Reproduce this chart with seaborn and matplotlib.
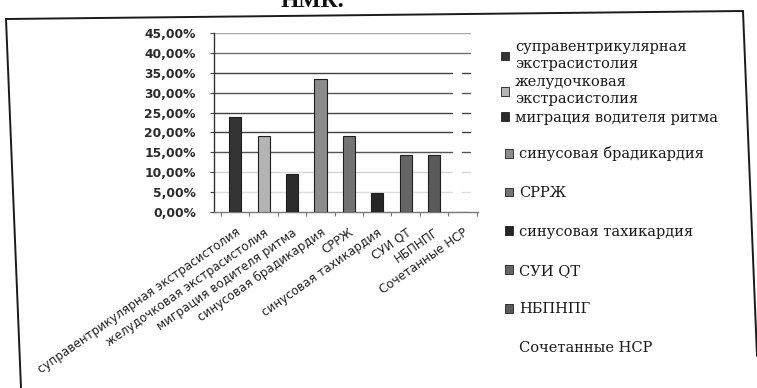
import matplotlib
matplotlib.use("Agg")
import matplotlib.pyplot as plt
from matplotlib.patches import Patch
from matplotlib.lines import Line2D
import seaborn as sns

# Arrhythmia types and their share of patients
categories = [
    "суправентрикулярная экстрасистолия",
    "желудочковая экстрасистолия",
    "миграция водителя ритма",
    "синусовая брадикардия",
    "СРРЖ",
    "синусовая тахикардия",
    "СУИ QT",
    "НБПНПГ",
    "Сочетанные НСР",
]
legend_labels = [
    "суправентрикулярная\nэкстрасистолия",
    "желудочковая\nэкстрасистолия",
    "миграция водителя ритма",
    "синусовая брадикардия",
    "СРРЖ",
    "синусовая тахикардия",
    "СУИ QT",
    "НБПНПГ",
    "Сочетанные НСР",
]
values = [0.2381, 0.1905, 0.0952, 0.3333, 0.1905, 0.0476, 0.1429, 0.1429, 0.0]
y_ticks = [0.0, 0.05, 0.10, 0.15, 0.20, 0.25, 0.30, 0.35, 0.40, 0.45]

bar_colors = ["#353535", "#b4b4b4", "#2c2c2c", "#8c8c8c", "#747474",
              "#262626", "#656565", "#5a5a5a", "#ffffff"]

sns.set_theme(style="white")
plt.rcParams["font.family"] = ["DejaVu Sans"]

W, H = 757, 388
fig = plt.figure(figsize=(W / 100, H / 100), dpi=100)
ax = fig.add_axes([214 / W, 1 - 212 / H, (478 - 214) / W, (212 - 33) / H])

sns.barplot(x=categories, y=values, hue=categories, palette=bar_colors,
            legend=False, width=0.43, edgecolor="#1e1e1e", linewidth=0.8,
            ax=ax, zorder=3)

ax.set_ylim(0, 0.45)
ax.set_xlim(-0.75, 8.55)
ax.set_yticks(y_ticks)
ax.set_yticklabels([f"{t * 100:.2f}%".replace(".", ",") for t in y_ticks],
                   fontsize=8.8, fontweight="bold", color="#2a2a2a")
ax.set_xticks(range(len(categories)))
ax.set_xticklabels(categories, rotation=35, ha="right",
                   rotation_mode="anchor", fontsize=8.6,
                   color="#222222")
ax.set_xlabel("")
ax.set_ylabel("")

# Horizontal gridlines, darker in the middle band
grid_colors = {0.05: "#dddddd", 0.10: "#d4d4d4", 0.15: "#555555",
               0.20: "#404040", 0.25: "#454545", 0.30: "#555555",
               0.35: "#404040", 0.40: "#707070", 0.45: "#a8a8a8"}
for t, c in grid_colors.items():
    if t >= 0.40:
        ax.axhline(t, xmin=0, xmax=0.97, color=c, lw=1.0, zorder=1)
    else:
        ax.axhline(t, xmin=0, xmax=0.9, color=c, lw=1.0, zorder=1)
        ax.axhline(t, xmin=0.94, xmax=0.97, color=c, lw=1.0, zorder=1)

for side in ["top", "right"]:
    ax.spines[side].set_visible(False)
ax.spines["left"].set_color("#333333")
ax.spines["left"].set_linewidth(1.0)
ax.spines["bottom"].set_color("#777777")
ax.spines["bottom"].set_linewidth(1.0)

ax.tick_params(axis="y", which="major", left=True, length=3, width=0.8,
               color="#444444", pad=10)
ax.tick_params(axis="x", which="major", bottom=False, pad=4)
ax.set_xticks([i + 0.5 for i in range(-1, len(categories))], minor=True)
ax.tick_params(axis="x", which="minor", bottom=True, length=3, width=0.8,
               color="#777777")

# Legend on the right, in two blocks (wrapped entries sit closer together)
handles = [Patch(facecolor=c, edgecolor="#1e1e1e", linewidth=0.6)
           for c in bar_colors]
handles[-1] = Patch(facecolor="none", edgecolor="none")
legend_font = {"family": ["DejaVu Serif"], "size": 10.5}
common = dict(loc="upper left", frameon=False, prop=legend_font,
              handlelength=0.55, handleheight=0.55, handletextpad=0.4,
              borderpad=0, labelcolor="#1a1a1a")

leg_a = fig.legend(handles[:3], legend_labels[:3],
                   bbox_to_anchor=(494 / W, 1 - 33 / H),
                   labelspacing=0.3, **common)
for txt in leg_a.get_texts():
    txt.set_linespacing(1.25)
leg_b = fig.legend(handles[3:], legend_labels[3:],
                   bbox_to_anchor=(498 / W, 1 - 139 / H),
                   labelspacing=1.7, **common)

# Page fragment above the chart
fig.text(312 / W, 1 - 7 / H, "НМК.", ha="center", va="baseline",
         fontsize=17, fontweight="bold", color="#111111",
         family=["Liberation Serif", "DejaVu Serif"])

# Tilted chart border
def fig_line(p0, p1):
    fig.add_artist(Line2D([p0[0] / W, p1[0] / W], [1 - p0[1] / H, 1 - p1[1] / H],
                          transform=fig.transFigure, color="#1a1a1a", lw=1.4))

fig_line((6, 19), (21, 388))
fig_line((6, 19), (743, 11))
fig_line((743, 11), (757, 356))

fig.savefig("out.png", dpi=100, facecolor="white")
